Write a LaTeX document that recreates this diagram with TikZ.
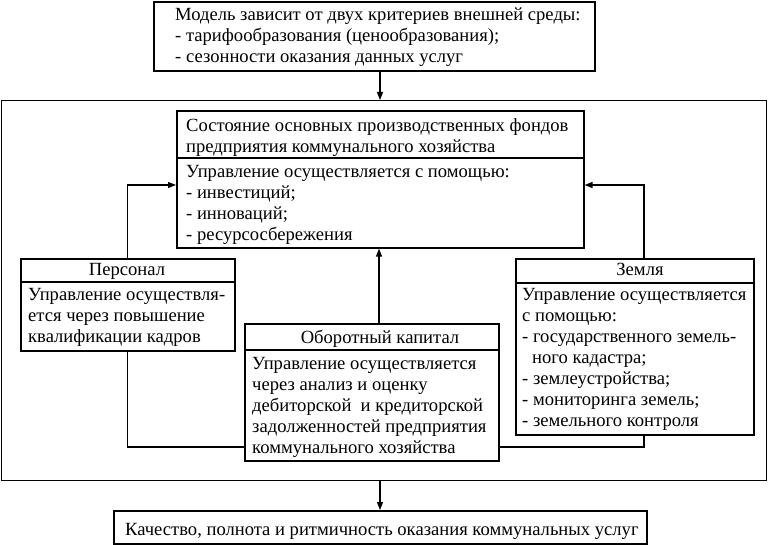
\documentclass[tikz,border=0pt]{standalone}
\usepackage{fontspec}
\setmainfont{Liberation Serif}
\usetikzlibrary{arrows.meta}
\newcommand\fstrut{\rule{0pt}{13pt}}
\tikzset{
  box/.style={draw, line width=1.6pt, inner sep=0pt, anchor=north west},
  frm/.style={draw, line width=1.4pt, inner sep=0pt, anchor=north west},
  txt/.style={inner sep=0pt, anchor=north west, align=left, font=\fontsize{18.6}{21}\selectfont},
  ttl/.style={inner sep=0pt, anchor=north, align=center, font=\fontsize{18.6}{21}\selectfont},
  conn/.style={line width=1.3pt},
  arr/.style={line width=1.3pt, -{Triangle[length=8pt,width=6pt]}},
}
\begin{document}
\begin{tikzpicture}[x=1pt,y=-1pt]
\useasboundingbox (0,0) rectangle (769,545);
% boxes
\node[box, minimum width=441pt, minimum height=69pt] (top) at (153,1) {};
\node[frm, minimum width=765pt, minimum height=380pt] (frame) at (1,100) {};
\node[box, minimum width=407pt, minimum height=137pt] (cen) at (176,110) {};
\node[box, minimum width=214pt, minimum height=92pt] (pers) at (20,258) {};
\node[box, minimum width=254pt, minimum height=137pt] (obo) at (244,323) {};
\node[box, minimum width=238pt, minimum height=176pt] (zem) at (515,258) {};
\node[box, minimum width=533pt, minimum height=33pt] (bot) at (113,510) {};
% dividers
\draw[line width=1.6pt] (cen.west |- 0,158) -- (cen.east |- 0,158);
\draw[line width=1.6pt] (pers.west |- 0,282) -- (pers.east |- 0,282);
\draw[line width=1.6pt] (obo.west |- 0,350) -- (obo.east |- 0,350);
\draw[line width=1.6pt] (zem.west |- 0,283) -- (zem.east |- 0,283);
% texts
\node[txt] (ttop) at (175,7) {\fstrut Модель зависит от двух критериев внешней среды:\\- тарифообразования (ценообразования);\\- сезонности оказания данных услуг};
\node[txt] (tcenh) at (186,118) {\fstrut Состояние основных производственных фондов\\предприятия коммунального хозяйства};
\node[txt] (tcenb) at (186,164) {\fstrut Управление осуществляется с помощью:\\- инвестиций;\\- инноваций;\\- ресурсосбережения};
\node[ttl] (tpersh) at (127,262) {\fstrut Персонал};
\node[txt] (tpersb) at (28,287) {\fstrut Управление осуществля-\\ется через повышение\\квалификации кадров};
\node[ttl] (toboh) at (380,330) {\fstrut Оборотный капитал};
\node[txt] (tobob) at (252,356) {\fstrut Управление осуществляется\\через анализ и оценку\\дебиторской\ \ и кредиторской\\задолженностей предприятия\\коммунального хозяйства};
\node[ttl] (tzemh) at (640,262) {\fstrut Земля};
\node[txt] (tzemb) at (522,287) {\fstrut Управление осуществляется\\с помощью:\\- государственного земель-\\\hspace*{10pt}ного кадастра;\\- землеустройства;\\- мониторинга земель;\\- земельного контроля};
\node[txt] (tbot) at (125,522) {\fstrut Качество, полнота и ритмичность оказания коммунальных услуг};
% connectors
\coordinate (xa) at (380,0);
\coordinate (xm) at (379,0);
\coordinate (xz) at (644,0);
\coordinate (yc) at (0,185);
\coordinate (yb) at (0,447);
\draw[arr] (top.south -| xa) -- (frame.north -| xa);
\draw[arr] (frame.south -| xa) -- (bot.north -| xa);
\draw[arr] (pers.north) |- (cen.west |- yc);
\draw[arr] (zem.north -| xz) |- (cen.east |- yc);
\draw[arr] (obo.north -| xm) -- (cen.south -| xm);
\draw[conn] (pers.south) |- (obo.west |- yb);
\draw[conn] (zem.south -| xz) |- (obo.east |- yb);
\end{tikzpicture}
\end{document}
